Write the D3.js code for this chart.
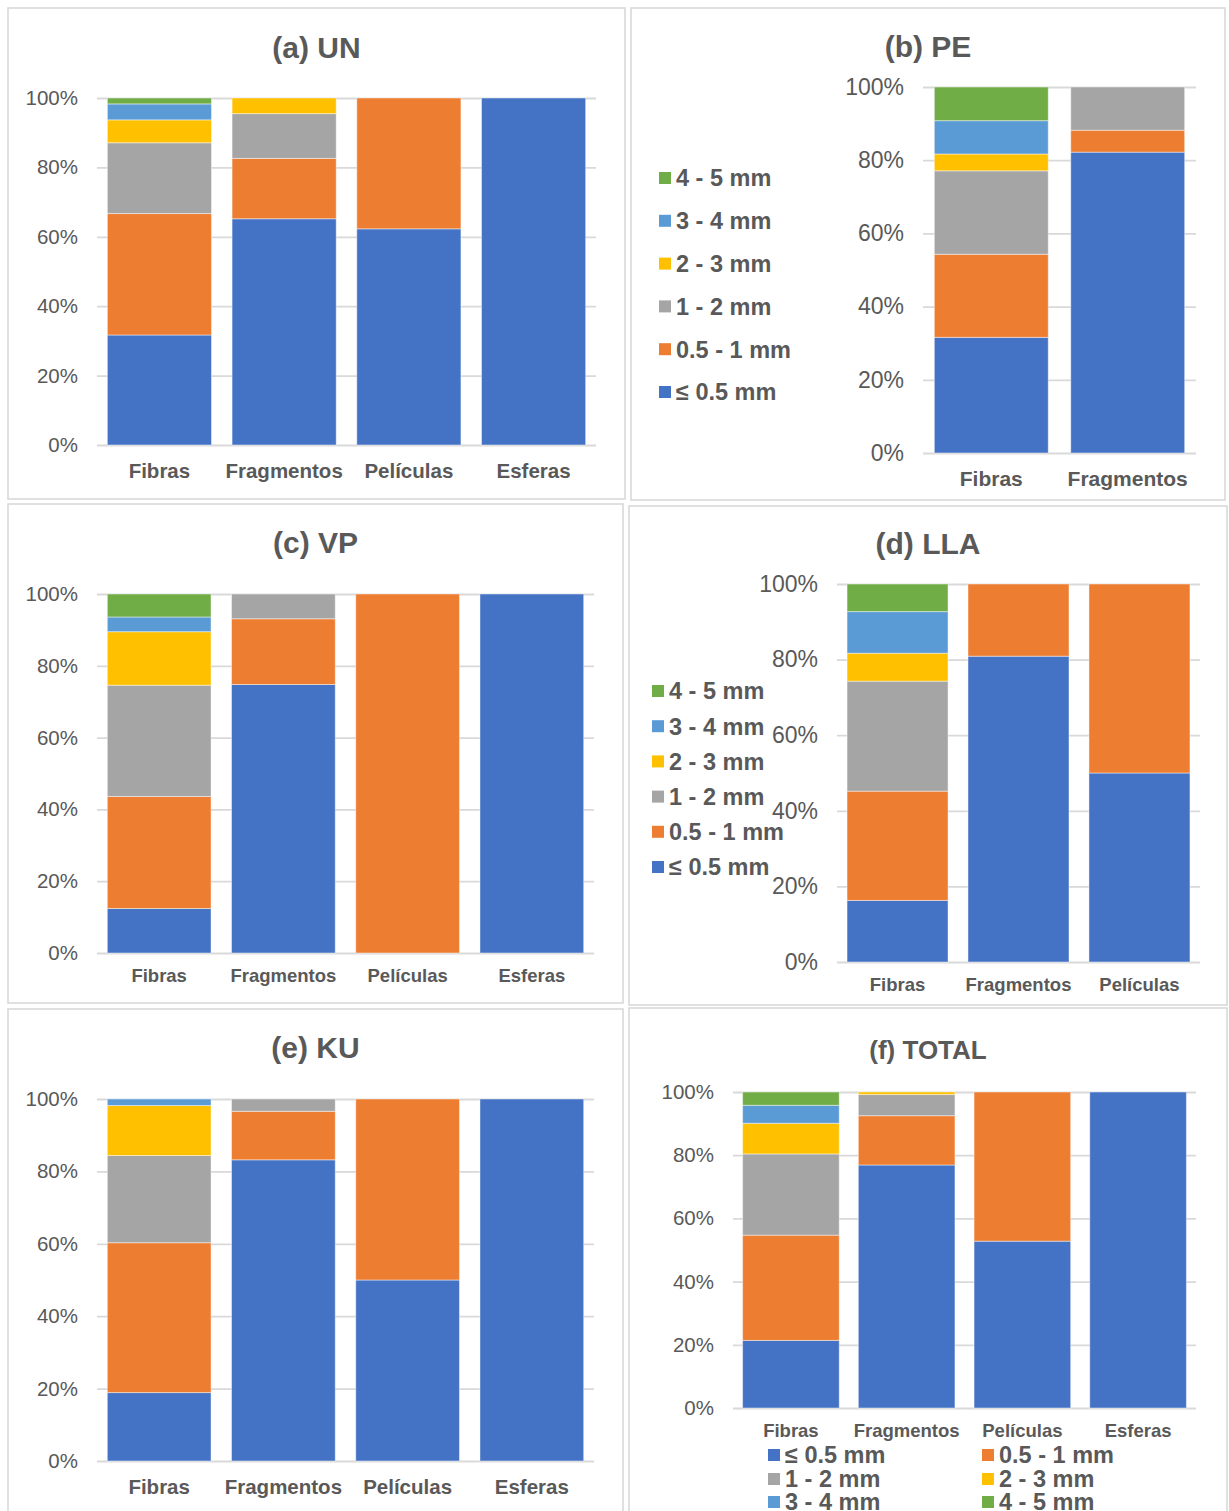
<!DOCTYPE html>
<html>
<head>
<meta charset="utf-8">
<script src="https://cdn.jsdelivr.net/npm/d3@7"></script>
<style>
  html, body { margin: 0; padding: 0; background: #fff; }
  svg { display: block; font-family: "Liberation Sans", Arial, sans-serif; }
</style>
</head>
<body>
<svg id="chart" width="1229" height="1511"></svg>
<script>
// Size classes (stack order, bottom to top) and their colours
const sizeClasses = ["≤ 0.5 mm", "0.5 - 1 mm", "1 - 2 mm", "2 - 3 mm", "3 - 4 mm", "4 - 5 mm"];
const classColors = ["#4472C4", "#ED7D31", "#A5A5A5", "#FFC000", "#5B9BD5", "#70AD47"];
const yTicks = [0, 0.2, 0.4, 0.6, 0.8, 1.0];
const yTickLabels = ["0%", "20%", "40%", "60%", "80%", "100%"];

// Percentages per category, one value per size class (in sizeClasses order)
const catsUN = ["Fibras", "Fragmentos", "Películas", "Esferas"];
const valsUN = [
  [31.7, 35.0, 20.4, 6.6, 4.6, 1.7],
  [65.2, 17.4, 12.9, 4.5, 0, 0],
  [62.3, 37.7, 0, 0, 0, 0],
  [100, 0, 0, 0, 0, 0]
];
const catsPE = ["Fibras", "Fragmentos"];
const valsPE = [
  [31.6, 22.7, 22.8, 4.6, 9.1, 9.2],
  [82.2, 6.0, 11.8, 0, 0, 0]
];
const catsVP = ["Fibras", "Fragmentos", "Películas", "Esferas"];
const valsVP = [
  [12.4, 31.2, 31.0, 14.9, 4.1, 6.4],
  [74.8, 18.3, 6.9, 0, 0, 0],
  [0, 100, 0, 0, 0, 0],
  [100, 0, 0, 0, 0, 0]
];
const catsLLA = ["Fibras", "Fragmentos", "Películas"];
const valsLLA = [
  [16.3, 28.9, 29.1, 7.4, 11.0, 7.3],
  [80.9, 19.1, 0, 0, 0, 0],
  [50.0, 50.0, 0, 0, 0, 0]
];
const catsKU = ["Fibras", "Fragmentos", "Películas", "Esferas"];
const valsKU = [
  [18.9, 41.4, 24.1, 13.8, 1.8, 0],
  [83.2, 13.4, 3.4, 0, 0, 0],
  [50.0, 50.0, 0, 0, 0, 0],
  [100, 0, 0, 0, 0, 0]
];
const catsTOTAL = ["Fibras", "Fragmentos", "Películas", "Esferas"];
const valsTOTAL = [
  [21.4, 33.3, 25.7, 9.7, 5.7, 4.2],
  [76.9, 15.6, 6.7, 0.8, 0, 0],
  [52.8, 47.2, 0, 0, 0, 0],
  [100, 0, 0, 0, 0, 0]
];

const TEXT = "#595959";
const GRID = "#d9d9d9";
const svg = d3.select("#chart");

// Panel layout: frame, plot area, font sizes and legend placement
const panels = [
  { title: "(a) UN", cats: catsUN, vals: valsUN,
    frame: [8, 8, 625, 499], titleY: 58, titleSize: 30,
    plot: [97, 98, 596, 445], tickSize: 20.5, catSize: 20.5, catY: 478 },
  { title: "(b) PE", cats: catsPE, vals: valsPE,
    frame: [631, 8, 1225, 500], titleY: 57, titleSize: 30,
    plot: [923, 87, 1196, 453], tickSize: 23, catSize: 21, catY: 486,
    legend: { type: "column", x: 659, y0: 178, dy: 42.8, size: 23.5 } },
  { title: "(c) VP", cats: catsVP, vals: valsVP,
    frame: [8, 504, 623, 1003], titleY: 553, titleSize: 30,
    plot: [97, 594, 594, 953], tickSize: 20.5, catSize: 18.5, catY: 982 },
  { title: "(d) LLA", cats: catsLLA, vals: valsLLA,
    frame: [629, 506, 1227, 1005], titleY: 554, titleSize: 30,
    plot: [837, 584, 1200, 962], tickSize: 23, catSize: 18.5, catY: 991,
    legend: { type: "column", x: 652, y0: 691, dy: 35.2, size: 23.5 } },
  { title: "(e) KU", cats: catsKU, vals: valsKU,
    frame: [8, 1009, 623, 1515], titleY: 1058, titleSize: 30,
    plot: [97, 1099, 594, 1461], tickSize: 20.5, catSize: 20.5, catY: 1494 },
  { title: "(f) TOTAL", cats: catsTOTAL, vals: valsTOTAL,
    frame: [629, 1008, 1227, 1515], titleY: 1059, titleSize: 26,
    plot: [733, 1092, 1196, 1408], tickSize: 20.5, catSize: 18.5, catY: 1437,
    legend: { type: "grid", xs: [768, 982], ys: [1455, 1479, 1502], size: 23.5 } }
];

panels.forEach(p => {
  const g = svg.append("g");
  const [fx0, fy0, fx1, fy1] = p.frame;
  g.append("rect")
    .attr("x", fx0).attr("y", fy0)
    .attr("width", fx1 - fx0).attr("height", fy1 - fy0)
    .attr("fill", "#fff").attr("stroke", GRID).attr("stroke-width", 1.6);

  g.append("text")
    .attr("x", (fx0 + fx1) / 2).attr("y", p.titleY)
    .attr("text-anchor", "middle")
    .attr("font-size", p.titleSize).attr("font-weight", "bold")
    .attr("fill", TEXT).text(p.title);

  const [px0, py0, px1, py1] = p.plot;
  const x = d3.scaleBand().domain(p.cats).range([px0, px1])
    .paddingInner(0.165).paddingOuter(0.083);
  const y = d3.scaleLinear().domain([0, 1]).range([py1, py0]);

  // gridlines and percentage labels
  const yAxis = d3.axisLeft(y).tickValues(yTicks)
    .tickFormat((d, i) => yTickLabels[i])
    .tickSize(-(px1 - px0)).tickPadding(19);
  const ya = g.append("g").attr("transform", `translate(${px0},0)`).call(yAxis);
  ya.select(".domain").remove();
  ya.selectAll(".tick line").attr("stroke", GRID).attr("stroke-width", 1.8);
  ya.selectAll(".tick text")
    .attr("fill", TEXT).attr("font-size", p.tickSize)
    .attr("font-family", "Liberation Sans, Arial, sans-serif");

  // stacked bars
  const rows = p.cats.map((c, i) => {
    const r = { cat: c };
    sizeClasses.forEach((s, k) => { r[s] = p.vals[i][k] / 100; });
    return r;
  });
  const stacked = d3.stack().keys(sizeClasses)(rows);
  g.append("g").selectAll("g").data(stacked).join("g")
    .attr("fill", (d, i) => classColors[i])
    .selectAll("rect").data(d => d.filter(s => s[1] - s[0] > 0)).join("rect")
    .attr("x", d => x(d.data.cat))
    .attr("width", x.bandwidth())
    .attr("y", d => y(d[1]))
    .attr("height", d => y(d[0]) - y(d[1]))
    .attr("stroke", "#ffffff").attr("stroke-opacity", 0.45).attr("stroke-width", 1);

  // category labels
  g.append("g").selectAll("text").data(p.cats).join("text")
    .attr("x", d => x(d) + x.bandwidth() / 2).attr("y", p.catY)
    .attr("text-anchor", "middle")
    .attr("font-size", p.catSize).attr("font-weight", "bold")
    .attr("fill", TEXT).text(d => d);

  // legends
  if (p.legend) {
    const L = p.legend;
    let items;
    if (L.type === "column") {
      items = sizeClasses.map((s, k) => ({ name: s, color: classColors[k] })).reverse()
        .map((it, i) => ({ ...it, x: L.x, y: L.y0 + i * L.dy }));
    } else {
      items = sizeClasses.map((s, k) => ({
        name: s, color: classColors[k],
        x: L.xs[k % 2], y: L.ys[Math.floor(k / 2)]
      }));
    }
    const lg = g.append("g").selectAll("g").data(items).join("g")
      .attr("transform", d => `translate(${d.x},${d.y})`);
    lg.append("rect").attr("x", 0).attr("y", -6).attr("width", 12).attr("height", 12)
      .attr("fill", d => d.color);
    lg.append("text").attr("x", 17).attr("y", 0).attr("dy", "0.36em")
      .attr("font-size", L.size).attr("font-weight", "bold")
      .attr("fill", TEXT).text(d => d.name);
  }
});
</script>
</body>
</html>
